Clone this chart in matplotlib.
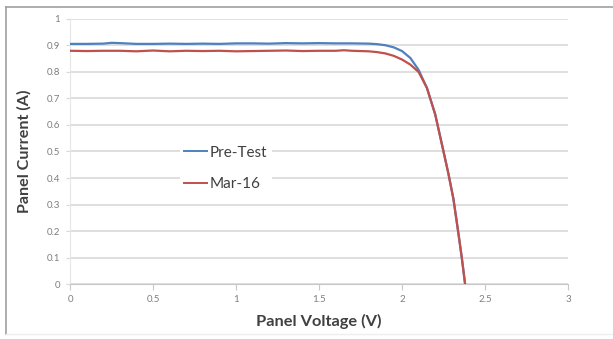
import matplotlib
matplotlib.use("Agg")
import matplotlib.pyplot as plt
from matplotlib.lines import Line2D

# I-V curves
pre_v = [0.0, 0.1, 0.2, 0.25, 0.3, 0.4, 0.5, 0.6, 0.7, 0.8, 0.9, 1.0, 1.1, 1.2,
         1.3, 1.4, 1.5, 1.6, 1.7, 1.8, 1.85, 1.9, 1.95, 2.0, 2.05, 2.1, 2.15,
         2.2, 2.25, 2.28, 2.31, 2.34, 2.36, 2.38]
pre_i = [0.906, 0.906, 0.907, 0.910, 0.909, 0.906, 0.906, 0.907, 0.906, 0.907,
         0.906, 0.908, 0.908, 0.907, 0.909, 0.908, 0.909, 0.908, 0.908, 0.907,
         0.905, 0.901, 0.893, 0.879, 0.853, 0.808, 0.740, 0.640, 0.500,
         0.415, 0.320, 0.190, 0.100, 0.0]

mar_v = [0.0, 0.1, 0.2, 0.3, 0.4, 0.5, 0.6, 0.7, 0.8, 0.9, 1.0, 1.1, 1.2, 1.3,
         1.4, 1.5, 1.6, 1.65, 1.7, 1.8, 1.85, 1.9, 1.95, 2.0, 2.05, 2.1, 2.15,
         2.2, 2.25, 2.28, 2.31, 2.34, 2.36, 2.38]
mar_i = [0.880, 0.879, 0.880, 0.880, 0.878, 0.881, 0.878, 0.880, 0.879, 0.880,
         0.878, 0.879, 0.880, 0.881, 0.879, 0.880, 0.880, 0.882, 0.880, 0.878,
         0.875, 0.870, 0.861, 0.847, 0.828, 0.800, 0.740, 0.640, 0.500,
         0.415, 0.320, 0.190, 0.100, 0.0]

x_ticks = [0, 0.5, 1, 1.5, 2, 2.5, 3]
x_labels = ["0", "0.5", "1", "1.5", "2", "2.5", "3"]
y_ticks = [0, 0.1, 0.2, 0.3, 0.4, 0.5, 0.6, 0.7, 0.8, 0.9, 1]
y_labels = ["0", "0.1", "0.2", "0.3", "0.4", "0.5", "0.6", "0.7", "0.8", "0.9", "1"]

plt.rcParams['font.family'] = ['Lato', 'DejaVu Sans']

fig = plt.figure(figsize=(6.13, 3.39), dpi=100)
ax = fig.add_axes([0.1142, 0.1622, 0.8124, 0.7818])

ax.plot(pre_v, pre_i, color='#4F81BD', lw=1.6, label='Pre-Test', zorder=3)
ax.plot(mar_v, mar_i, color='#C0504D', lw=1.6, label='Mar-16', zorder=4)

ax.set_xlim(0, 3)
ax.set_ylim(0, 1)
ax.set_xticks(x_ticks)
ax.set_xticklabels(x_labels)
ax.set_yticks(y_ticks)
ax.set_yticklabels(y_labels)
ax.grid(axis='y', color='#D9D9D9', lw=1.2)
ax.set_axisbelow(True)

for s in ['top', 'right']:
    ax.spines[s].set_visible(False)
ax.spines['left'].set_color('#E6E6E6')
ax.spines['bottom'].set_color('#C8C8C8')
ax.tick_params(axis='x', colors='#C8C8C8', labelcolor='#7F7F7F', labelsize=7,
               length=4, direction='out', pad=4)
ax.tick_params(axis='y', colors='#D9D9D9', labelcolor='#7F7F7F', labelsize=7,
               length=3, direction='out', pad=4)

ax.set_xlabel('Panel Voltage (V)', fontsize=11.8, fontweight='bold',
              color='#404040', labelpad=7)
ax.set_ylabel('Panel Current (A)', fontsize=11.6, fontweight='bold',
              color='#404040', labelpad=11)

leg = ax.legend(loc='center left', bbox_to_anchor=(0.205, 0.436), fontsize=11,
                frameon=True, facecolor='white', edgecolor='none', framealpha=1,
                fancybox=False, handlelength=1.5, handletextpad=0.15,
                labelspacing=1.15, borderpad=0.3)
for t in leg.get_texts():
    t.set_color('#404040')
for h in leg.get_lines():
    h.set_linewidth(1.4)

# thin outer frame like the pasted chart object
fig.add_artist(Line2D([6 / 613, 6 / 613], [1 - 7 / 339, 1 - 334 / 339],
                      transform=fig.transFigure, color='#A0A0A0', lw=1.2))
fig.add_artist(Line2D([6 / 613, 1], [1 - 7 / 339, 1 - 7 / 339],
                      transform=fig.transFigure, color='#A0A0A0', lw=1.2))
fig.add_artist(Line2D([6 / 613, 1], [1 - 334 / 339, 1 - 334 / 339],
                      transform=fig.transFigure, color='#EEEEEE', lw=1.0))

fig.savefig('out.png', dpi=100)
